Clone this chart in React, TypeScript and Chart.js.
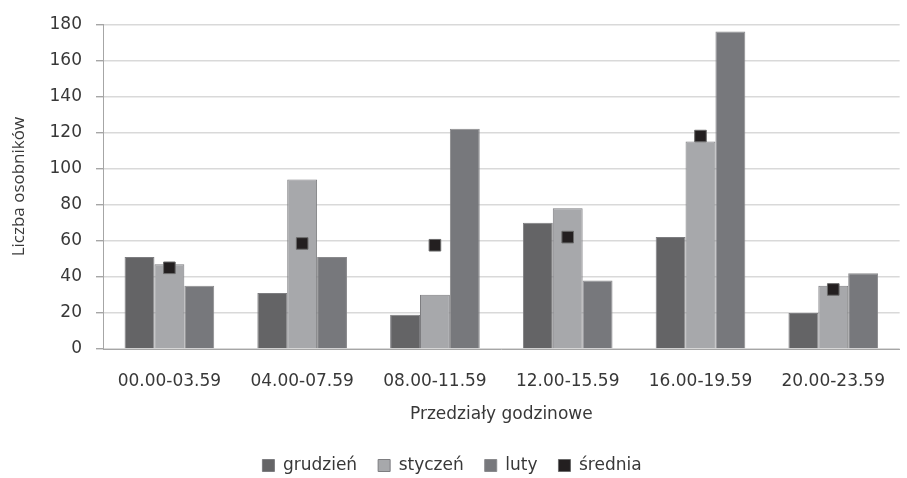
import React, { useEffect, useRef } from "react";
import { Chart, registerables } from "chart.js";

Chart.register(...registerables);

const categories = ["00.00-03.59", "04.00-07.59", "08.00-11.59", "12.00-15.59", "16.00-19.59", "20.00-23.59"];
const grudzien = [51, 31, 19, 70, 62, 20];
const styczen = [47, 94, 30, 78, 115, 35];
const luty = [35, 51, 122, 38, 176, 42];
const srednia = [45, 58.5, 57.5, 62, 118, 33];
const seriesNames = ["grudzień", "styczeń", "luty", "średnia"];
const yTitle = "Liczba osobników";
const xTitle = "Przedziały godzinowe";

const FONT = "'DejaVu Sans', 'Open Sans', sans-serif";
const TEXT = "#383838";

const legendShift = {
  id: "legendShift",
  afterLayout(chart: any) {
    const lg = chart.legend;
    if (!lg) return;
    const d = 436 - lg.top;
    lg.top += d;
    lg.bottom += d;
    lg.left = 0;
    lg.right = 904;
    lg.width = 904;
  },
};

export default function App() {
  const ref = useRef<HTMLCanvasElement | null>(null);
  useEffect(() => {
    document.body.style.margin = "0";
    const canvas = ref.current;
    if (!canvas) return;
    const chart = new Chart(canvas, {
      type: "bar",
      data: {
        labels: categories,
        datasets: [
          {
            label: seriesNames[0],
            data: grudzien,
            backgroundColor: "#646466",
            borderColor: "#7d7d80",
            borderWidth: 1,
            order: 1,
          },
          {
            label: seriesNames[1],
            data: styczen,
            backgroundColor: "#a7a8ab",
            borderColor: "#7d7d80",
            borderWidth: 1,
            order: 1,
          },
          {
            label: seriesNames[2],
            data: luty,
            backgroundColor: "#77787c",
            borderColor: "#8a8a8d",
            borderWidth: 1,
            order: 1,
          },
          {
            type: "line" as any,
            label: seriesNames[3],
            data: srednia,
            backgroundColor: "#231f20",
            borderColor: "#6a6a6a",
            borderWidth: 1,
            showLine: false,
            pointStyle: "rect",
            pointRadius: 8.2,
            pointHoverRadius: 8.2,
            order: 0,
          } as any,
        ],
      },
      options: {
        animation: false,
        responsive: false,
        maintainAspectRatio: false,
        layout: { autoPadding: false, padding: { top: 13, left: 0, right: -8, bottom: 0 } },
        datasets: {
          bar: { categoryPercentage: 0.675, barPercentage: 1 },
        } as any,
        plugins: {
          tooltip: { enabled: false },
          legend: {
            position: "bottom",
            labels: {
              boxWidth: 12,
              boxHeight: 12,
              padding: 21,
              color: TEXT,
              font: { family: FONT, size: 17 },
              sort: (a: any, b: any) => a.datasetIndex - b.datasetIndex,
            },
          },
        },
        scales: {
          x: {
            offset: true,
            grid: { display: false, drawTicks: false },
            border: { display: true, color: "#a6a6a6", width: 1 },
            ticks: { color: TEXT, font: { family: FONT, size: 17 }, padding: 22, maxRotation: 0 },
            title: {
              display: true,
              text: xTitle,
              color: TEXT,
              font: { family: FONT, size: 17 },
              padding: { top: 0, bottom: 5 },
            },
            afterFit: (s: any) => {
              s.height = 81;
            },
          },
          y: {
            min: 0,
            max: 180,
            ticks: { stepSize: 20, color: TEXT, font: { family: FONT, size: 17 }, padding: 14 },
            grid: { color: "#d9d9d9", lineWidth: 1.4, tickLength: 7, drawTicks: true, tickColor: "#a6a6a6" },
            border: { display: true, color: "#a6a6a6", width: 1 },
            title: {
              display: true,
              text: yTitle,
              color: TEXT,
              font: { family: "'Open Sans', sans-serif", size: 17 },
              padding: { top: 9, bottom: 0 },
            },
            afterFit: (s: any) => {
              s.width = 103;
            },
          },
        },
      },
      plugins: [legendShift],
    });
    return () => chart.destroy();
  }, []);
  return <canvas ref={ref} width={907} height={478} style={{ display: "block" }} />;
}
